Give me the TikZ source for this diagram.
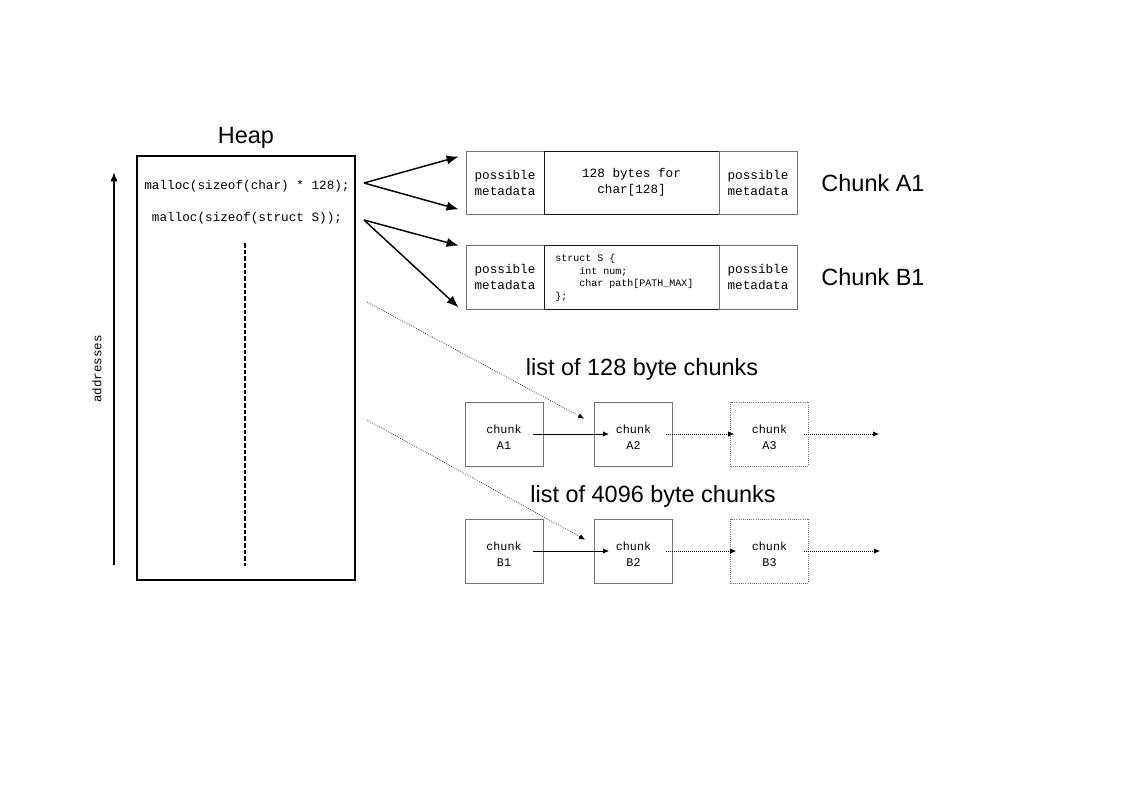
\documentclass[tikz,border=0pt]{standalone}
\usepackage{fontspec}
\setmainfont{Liberation Sans}
\newfontfamily\monof{Liberation Mono}
\usetikzlibrary{arrows.meta,calc}
\begin{document}
\begin{tikzpicture}[x=0.75pt,y=-0.75pt,
 big/.style={font=\fontsize{17.6}{20}\selectfont},
 code/.style={font=\monof\fontsize{9.5}{12}\selectfont, align=center},
 seg/.style={draw=black!55, line width=0.6pt, minimum width=58.5pt, inner sep=0pt, code},
 midseg/.style={draw=black!90, line width=0.7pt, minimum width=131.25pt, inner sep=0pt, code},
 chunkbox/.style={draw=black!55, line width=0.6pt, minimum width=58.5pt, minimum height=48pt, inner sep=0pt},
 chunktext/.style={font=\monof\fontsize{8.8}{12}\selectfont, align=center, inner sep=0pt},
 heavy/.style={line width=1.1pt, -{Latex[length=9pt,width=7pt]}},
 light/.style={densely dotted, line width=0.5pt, -{Latex[length=4.5pt,width=4pt]}},
 link/.style={line width=0.7pt, -{Latex[length=4.5pt,width=4pt]}},
]
\useasboundingbox (0,0) rectangle (1123,794);

% heap
\node[draw, line width=1.3pt, minimum width=163.5pt, minimum height=318pt, inner sep=0pt] (heap) at (246,368) {};
\node[big] (heaplbl) at (246,138) {Heap};
\node[code] (m1) at (247,186) {malloc(sizeof(char) * 128);};
\node[code] (m2) at (247,218) {malloc(sizeof(struct S));};
\coordinate (dtop) at (245,243);
\coordinate (dbot) at (245,566);
\draw[line width=1pt, dash pattern=on 3.5pt off 1.5pt] (dtop) -- (dbot);

% addresses
\coordinate (abot) at (114,565);
\coordinate (atop) at (114,172);
\draw[line width=1.1pt, -{Latex[length=7pt,width=5.5pt]}] (abot) -- (atop);
\node[rotate=90, font=\monof\fontsize{9.4}{11}\selectfont] (addr) at (97,369) {addresses};

% chunk A1 row
\node[seg, minimum height=47.25pt] (a1l) at (505,182.5) {possible\\metadata};
\node[midseg, minimum height=47.25pt] (a1m) at (631.5,182.5) {128 bytes for\\char[128]};
\node[seg, minimum height=47.25pt] (a1r) at (758,182.5) {possible\\metadata};
\node[big] (a1lbl) at (873,183) {Chunk A1};

% chunk B1 row
\node[seg, minimum height=48pt] (b1l) at (505,277) {possible\\metadata};
\node[midseg, minimum height=48pt] (b1m) at (631.5,277) {};
\node[anchor=west, align=left, inner sep=0pt, font=\monof\fontsize{7.5}{9.5}\selectfont] (b1code) at (555,278)
 {struct S \{\\\hphantom{xxxx}int num;\\\hphantom{xxxx}char path[PATH\_MAX]\\\};};
\node[seg, minimum height=48pt] (b1r) at (758,277) {possible\\metadata};
\node[big] (b1lbl) at (873,277) {Chunk B1};

% heavy arrows
\coordinate (fa) at (364,183);
\coordinate (fb) at (364,220);
\draw[heavy] (fa) -- ($(a1l.north west)+(-7,6)$);
\draw[heavy] (fa) -- ($(a1l.south west)+(-7,-5)$);
\draw[heavy] (fb) -- ($(b1l.north west)+(-7,1)$);
\draw[heavy] (fb) -- ($(b1l.south west)+(-7,-2)$);

% lists
\node[big] (l128) at (642,369) {list of 128 byte chunks};
\node[big] (l4096) at (653,496) {list of 4096 byte chunks};

\node[chunkbox] (ca1) at (504,434) {};
\node[chunkbox] (ca2) at (633.5,434) {};
\node[chunkbox, densely dotted] (ca3) at (769.5,434) {};
\node[chunkbox] (cb1) at (504,551) {};
\node[chunkbox] (cb2) at (633.5,551) {};
\node[chunkbox, densely dotted] (cb3) at (769.5,551) {};
\node[chunktext] (ta1) at ($(ca1.center)+(0,3)$) {chunk\\A1};
\node[chunktext] (ta2) at ($(ca2.center)+(0,3)$) {chunk\\A2};
\node[chunktext] (ta3) at ($(ca3.center)+(0,3)$) {chunk\\A3};
\node[chunktext] (tb1) at ($(cb1.center)+(0,3)$) {chunk\\B1};
\node[chunktext] (tb2) at ($(cb2.center)+(0,3)$) {chunk\\B2};
\node[chunktext] (tb3) at ($(cb3.center)+(0,3)$) {chunk\\B3};

\coordinate (aend) at (879,434);
\coordinate (bend) at (880,551);
\draw[link] ($(ca1.east)+(-10,0)$) -- ($(ca2.west)+(15,0)$);
\draw[light] ($(ca2.east)+(-7,0)$) -- ($(ca3.west)+(4,0)$);
\draw[light] ($(ca3.east)+(-5,0)$) -- (aend);
\draw[link] ($(cb1.east)+(-10,0)$) -- ($(cb2.west)+(15,0)$);
\draw[light] ($(cb2.east)+(-7,0)$) -- ($(cb3.west)+(6,0)$);
\draw[light] ($(cb3.east)+(-5,0)$) -- (bend);

% dotted pointers from heap
\coordinate (pa) at (367,302);
\coordinate (pb) at (367,420);
\draw[light] (pa) -- ($(ca2.north west)+(-10,17)$);
\draw[light] (pb) -- ($(cb2.north west)+(-9,21)$);
\end{tikzpicture}
\end{document}
